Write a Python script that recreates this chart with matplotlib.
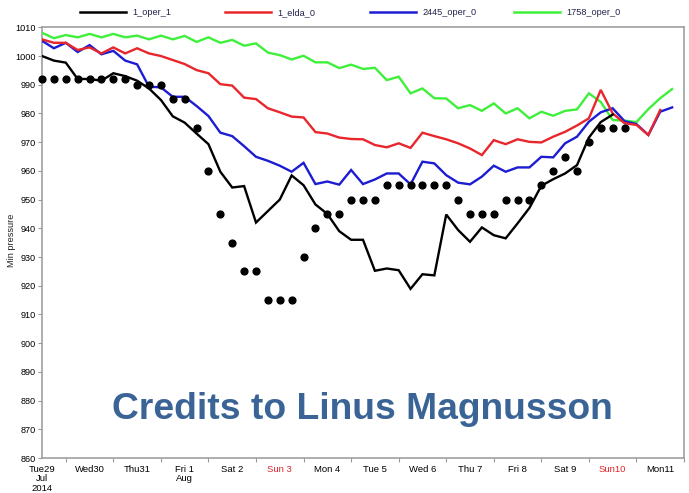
import matplotlib
matplotlib.use("Agg")
import matplotlib.pyplot as plt
from matplotlib.lines import Line2D
import numpy as np

plt.rcParams['font.family'] = ['Liberation Sans', 'DejaVu Sans']

# ---- data (6-hourly steps, days since Tue 29 Jul 2014 00 UTC) ----
step = 0.25
oper_1 = [1000, 998.4, 997.7, 992, 992, 991.4, 994, 993, 991.4, 988.7, 984.7, 979,
          976.8, 973, 969.3, 959.7, 954.2, 954.7, 942, 946, 950, 958.4, 955, 948.3,
          945, 939, 936, 936, 925.2, 926, 925.4, 918.9, 924, 923.6, 944.8, 939.4,
          935.3, 940.3, 937.6, 936.5, 941.7, 947.1, 954.8, 957.1, 959.1, 962, 971.6,
          977, 979.6]
elda_0 = [1005.8, 1004.6, 1004.6, 1002.1, 1003, 1000.9, 1003, 1000.9, 1002.7, 1000.9,
          1000, 998.6, 997.2, 995.1, 994, 990.2, 989.7, 985.5, 985, 981.8, 980.4,
          978.9, 978.6, 973.5, 973, 971.6, 971.1, 971, 969, 968.2, 969.6, 968, 973.3,
          972.1, 971, 969.6, 967.8, 965.5, 970.7, 969.3, 971, 970.1, 969.9, 971.9,
          973.6, 975.8, 978.3, 988.2, 980, 976.6, 976, 972.5, 981.2]
oper_2445 = [1005.3, 1002.7, 1004.6, 1001.4, 1003.8, 1000.6, 1001.8, 998.4, 997.1, 989.3,
             989.1, 985.8, 985.8, 982.6, 979.1, 973.3, 972.1, 968.6, 964.9, 963.5, 961.8,
             959.7, 962.8, 955.4, 956.3, 955.2, 960.3, 955.4, 957, 959.1, 959.1, 955.3,
             963.2, 962.6, 958.5, 955.9, 955.3, 958, 961.8, 959.7, 961.2, 961.2, 964.9,
             964.7, 969.6, 971.9, 977.1, 980.4, 981.8, 977.3, 976.3, 972.5, 980.6, 982.1]
oper_1758 = [1008.1, 1006.2, 1007.3, 1006.5, 1007.7, 1006.5, 1007.7, 1006.5, 1007.1, 1005.8,
             1007.1, 1005.8, 1007, 1004.9, 1006.5, 1004.6, 1005.6, 1003.6, 1004.4, 1001.2,
             1000.3, 998.8, 1000.1, 997.8, 997.8, 995.8, 997, 995.5, 995.9, 991.6, 992.8,
             987, 988.7, 985.3, 985.2, 981.8, 982.9, 980.9, 983.5, 980, 981.8, 978.3,
             980.6, 979.2, 980.9, 981.4, 987, 984, 977.7, 977.5, 977, 981.5, 985.3, 988.5]
observed = [992, 992, 992, 992, 992, 992, 992, 992, 990, 990, 990, 985, 985, 975, 960,
            945, 935, 925, 925, 915, 915, 915, 930, 940, 945, 945, 950, 950, 950,
            955, 955, 955, 955, 955, 955, 950, 945, 945, 945, 950, 950, 950, 955, 960,
            965, 960, 970, 975, 975, 975]

series_names = ["1_oper_1", "1_elda_0", "2445_oper_0", "1758_oper_0"]
series_values = [oper_1, elda_0, oper_2445, oper_1758]
series_colors = ["#000000", "#e8262b", "#1c1cd2", "#3ff03a"]

day_labels = ["Tue29\nJul\n2014", "Wed30", "Thu31", "Fri 1\nAug", "Sat 2", "Sun 3",
              "Mon 4", "Tue 5", "Wed 6", "Thu 7", "Fri 8", "Sat 9", "Sun10", "Mon11"]
red_labels = ["Sun 3", "Sun10"]
yticks = list(range(860, 1011, 10))

# ---- figure ----
fig = plt.figure(figsize=(6.89, 4.93), dpi=100)
ax = fig.add_axes([42 / 689, 1 - 458 / 493, (684 - 42) / 689, (458 - 27.3) / 493])

# draw order: green, blue, red, black (black on top)
for idx in [3, 2, 1, 0]:
    vals = series_values[idx]
    x = np.arange(len(vals)) * step
    ax.plot(x, vals, color=series_colors[idx], lw=1.7, solid_joinstyle='miter',
            zorder=3 + (3 - idx))
xo = np.arange(len(observed)) * step
ax.plot(xo, observed, 'o', color='black', ms=4.9, mec='black', zorder=10, clip_on=False)

ax.set_xlim(0, 13.22)
ax.set_ylim(860, 1010)

ax.set_yticks(yticks)
ax.set_yticklabels([str(v) for v in yticks])
ax.set_xticks(np.arange(len(day_labels)))
ax.set_xticklabels(day_labels, linespacing=1.05, va='top')
ax.set_xticks(np.arange(len(day_labels)) + 0.5, minor=True)

for lbl in ax.get_xticklabels():
    if lbl.get_text() in red_labels:
        lbl.set_color('#e0222a')

ax.tick_params(axis='x', which='major', length=0, pad=5, labelsize=6.8)
ax.tick_params(axis='x', which='minor', length=3, width=0.8, color='#999999', direction='out')
ax.tick_params(axis='y', which='major', length=3, width=0.8, color='#999999',
               direction='out', pad=1.5, labelsize=6.6)

for sp in ax.spines.values():
    sp.set_color('#a0a0a0')
    sp.set_linewidth(1.2)

fig.text(12 / 689, 1 - 240 / 493, "Min pressure", rotation=90, ha='center', va='center',
         fontsize=6.6, color='#222222')

# legend row at top
leg_x = [80, 225, 370, 514]
for i, name in enumerate(series_names):
    x0 = leg_x[i] / 689
    x1 = (leg_x[i] + 46) / 689
    yy = 1 - 12.3 / 493
    fig.add_artist(Line2D([x0, x1], [yy, yy], transform=fig.transFigure,
                          color=series_colors[i], lw=1.8))
    fig.text((leg_x[i] + 52) / 689, yy, name, ha='left', va='center', fontsize=6.6,
             color='#22224a')

# watermark
fig.text(362 / 689, 1 - 419 / 493, "Credits to Linus Magnusson", ha='center',
         va='baseline', fontsize=26.8, fontweight='bold', color='#3a6496')

fig.savefig("out.png", dpi=100)
